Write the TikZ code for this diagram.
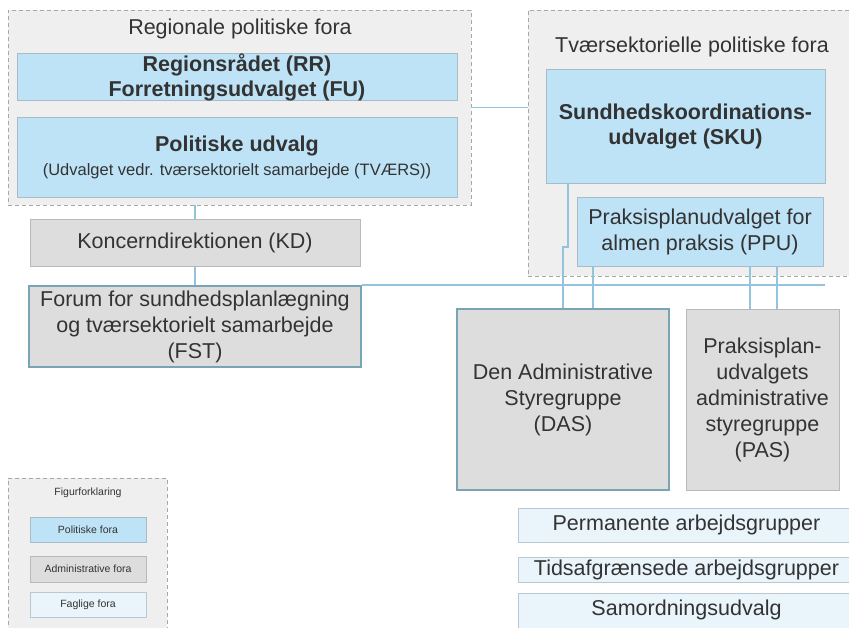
\documentclass[tikz,border=0pt]{standalone}
\usepackage{fontspec}
\setmainfont{Liberation Sans}
\usepackage{tikz}
\definecolor{polblue}{HTML}{BEE3F6}
\definecolor{admgray}{HTML}{DDDDDD}
\definecolor{fagblue}{HTML}{EAF5FB}
\definecolor{forabg}{HTML}{EFEFEF}
\definecolor{framegray}{HTML}{A8A8A8}
\definecolor{boxframe}{HTML}{A9BCC6}
\definecolor{mainframe}{HTML}{7AA3B6}
\definecolor{linkblue}{HTML}{92C5DD}
\definecolor{txtgray}{HTML}{333333}

\begin{document}
\begin{tikzpicture}[x=1pt, y=-1pt,
        every node/.style={text=txtgray, align=center, inner sep=0pt, font=\fontsize{21.5}{26}\selectfont},
        fora/.style={rectangle, draw=framegray, dash pattern=on 4pt off 3pt, fill=forabg},
        pol/.style={rectangle, draw=boxframe, fill=polblue},
        adm/.style={rectangle, draw=framegray!80, fill=admgray},
        fag/.style={rectangle, draw=boxframe!80, fill=fagblue},
        main/.style={draw=mainframe, line width=2pt},
        bold/.style={font=\fontsize{21.5}{25}\selectfont\bfseries},
        small/.style={font=\fontsize{10.5}{12}\selectfont},
        link/.style={draw=linkblue, line width=1.2pt}]
        \useasboundingbox (0,0) rectangle (849,627);
        \clip (0,0) rectangle (849,627);
        % Politiske fora
        \node[fora, minimum width=463, minimum height=195] (REG) at (239.5,107.5) {};
        \node (REGt) at (240,29) {Regionale politiske fora};
        \node[pol, bold, minimum width=440, minimum height=46] (RR) at (237,77) {Regionsrådet (RR)\\Forretningsudvalget (FU)};
        \node[pol, minimum width=440, minimum height=80] (PU) at (237,157) {{\bfseries Politiske udvalg}\\[-2pt]{\fontsize{16.5}{20}\selectfont (Udvalget vedr. tværsektorielt samarbejde (TVÆRS))}};
        \node[fora, minimum width=332, minimum height=266] (TV) at (694,143) {};
        \node (TVt) at (692,47) {Tværsektorielle politiske fora};
        \node[pol, bold, minimum width=279, minimum height=114] (SKU) at (685.5,126) {Sundhedskoordinations-\\udvalget (SKU)};
        \node[pol, minimum width=246, minimum height=69] (PPU) at (700,231.5) {Praksisplanudvalget for\\almen praksis (PPU)};
        % Administrative fora
        \node[adm, minimum width=330, minimum height=47] (KD) at (195,242.5) {Koncerndirektionen (KD)};
        \node[adm, main, minimum width=332, minimum height=81] (FST) at (195,326.5) {Forum for sundhedsplanlægning\\og tværsektorielt samarbejde\\(FST)};
        \node[adm, main, minimum width=212, minimum height=181] (DAS) at (563,399.5) {Den Administrative\\Styregruppe\\(DAS)};
        \node[adm, minimum width=153, minimum height=181] (PAS) at (762.5,399.5) {Praksisplan-\\udvalgets\\administrative\\styregruppe\\(PAS)};
        % Faglige fora
        \node[fag, minimum width=337, minimum height=34] (PERM) at (686.5,525) {Permanente arbejdsgrupper};
        \node[fag, minimum width=337, minimum height=25] (TIDS) at (686.5,569.5) {Tidsafgrænsede arbejdsgrupper};
        \node[fag, minimum width=337, minimum height=42] (SAM) at (686.5,614) {};
        \node (SAMt) at (686.5,610) {Samordningsudvalg};
        % Figurforklaring
        \node[fora, minimum width=159, minimum height=162] (LEG) at (87.5,559) {};
        \node[small] (LEGt) at (88,493) {Figurforklaring};
        \node[pol, small, minimum width=116, minimum height=25] (LPOL) at (88,529.5) {Politiske fora};
        \node[adm, small, minimum width=116, minimum height=26] (LADM) at (88,569) {Administrative fora};
        \node[fag, small, minimum width=116, minimum height=25] (LFAG) at (88,604.5) {Faglige fora};
        % Lines
        \coordinate (busend) at (825,285);
        \draw[link] (KD.north |- REG.south) -- (KD.north);
        \draw[link] (KD.south) -- (FST.north);
        \draw[link] (REG.east) -- (TV.west |- REG.east);
        \draw[link] (FST.north east) -- (busend);
        \draw[link] (SKU.south -| 568,0) -- (568,247) -- (563,247) -- (DAS.north -| 563,0);
        \draw[link] (PPU.south -| 593,0) -- (DAS.north -| 593,0);
        \draw[link] (PPU.south -| 750,0) -- (PAS.north -| 750,0);
        \draw[link] (PPU.south -| 777,0) -- (PAS.north -| 777,0);
\end{tikzpicture}
\end{document}
